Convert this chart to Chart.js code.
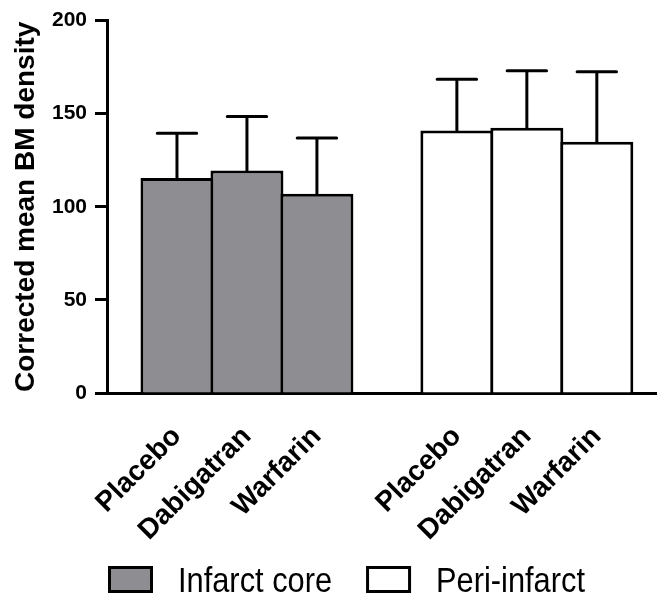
<!DOCTYPE html>
<html>
<head>
<meta charset="utf-8">
<script src="https://cdn.jsdelivr.net/npm/chart.js@4.4.1/dist/chart.umd.min.js"></script>
<style>
  html, body { margin: 0; padding: 0; background: #fff; }
  #wrap { width: 657px; height: 597px; }
</style>
</head>
<body>
<div id="wrap"><canvas id="chart"></canvas></div>
<script>
// values (mean and SD, corrected BM density)
const drugs = ["Placebo", "Dabigatran", "Warfarin"]
const coreX = [1, 2, 3]
const periX = [5, 6, 7]
const coreMean = [115.5, 119.5, 107]
const coreSD = [24, 29, 30]
const periMean = [141, 142.5, 135]
const periSD = [27.5, 30.5, 37.5]
const yTicks = [0, 50, 100, 150, 200]

const xLabels = [...drugs, ...drugs]
const xTicks = [...coreX, ...periX]

Chart.defaults.font.family = "'Liberation Sans', Arial, sans-serif"
Chart.defaults.color = "#000"

// mean + SD whiskers, drawn from the bar elements and the y scale
const errorBars = {
  id: "errorBars",
  afterDatasetsDraw(chart) {
    const ctx = chart.ctx
    const y = chart.scales.y
    ctx.save()
    ctx.strokeStyle = "#000"
    ctx.lineWidth = 3
    ctx.lineCap = "round"
    chart.data.datasets.forEach((ds, di) => {
      chart.getDatasetMeta(di).data.forEach((bar, i) => {
        const top = y.getPixelForValue(ds.data[i].y)
        const end = y.getPixelForValue(ds.data[i].y + ds.sd[i])
        const half = bar.width * 0.27
        ctx.beginPath()
        ctx.moveTo(bar.x, top)
        ctx.lineTo(bar.x, end)
        ctx.moveTo(bar.x - half, end)
        ctx.lineTo(bar.x + half, end)
        ctx.stroke()
      })
    })
    ctx.restore()
  }
}

// legend row under the labels (text a bit condensed, like the figure)
const boxLegend = {
  id: "boxLegend",
  afterDraw(chart) {
    const ctx = chart.ctx
    const squeeze = 0.88
    let x = 108
    const top = 566
    ctx.save()
    ctx.font = "35px 'Liberation Sans', Arial, sans-serif"
    ctx.textBaseline = "alphabetic"
    chart.data.datasets.forEach((ds) => {
      ctx.fillStyle = ds.backgroundColor
      ctx.fillRect(x, top, 45, 27)
      ctx.strokeStyle = "#000"
      ctx.lineWidth = 3
      ctx.strokeRect(x + 1.5, top + 1.5, 42, 24)
      ctx.fillStyle = "#000"
      ctx.save()
      ctx.translate(x + 70, top + 26)
      ctx.scale(squeeze, 1)
      ctx.fillText(ds.label, 0, 0)
      ctx.restore()
      x += 70 + ctx.measureText(ds.label).width * squeeze + 34
    })
    ctx.restore()
  }
}

const toPoints = (xs, ys) => xs.map((x, i) => ({ x, y: ys[i] }))

new Chart(document.getElementById("chart"), {
  type: "bar",
  data: {
    datasets: [
      {
        label: "Infarct core",
        data: toPoints(coreX, coreMean),
        sd: coreSD,
        backgroundColor: "#8e8e92",
        borderColor: "#000",
        borderWidth: 3
      },
      {
        label: "Peri-infarct",
        data: toPoints(periX, periMean),
        sd: periSD,
        backgroundColor: "#ffffff",
        borderColor: "#000",
        borderWidth: 3
      }
    ]
  },
  options: {
    responsive: true,
    maintainAspectRatio: false,
    animation: false,
    grouped: false,
    barPercentage: 1.043,
    categoryPercentage: 1,
    layout: { padding: { top: 20, right: 0, bottom: 54, left: 0 } },
    plugins: {
      legend: { display: false },
      tooltip: { enabled: false }
    },
    scales: {
      x: {
        type: "linear",
        min: 0,
        max: 7.86,
        offset: false,
        grid: { display: false, offset: false },
        border: { color: "#000", width: 3 },
        afterBuildTicks: (scale) => { scale.ticks = xTicks.map((v) => ({ value: v })) },
        ticks: {
          autoSkip: false,
          minRotation: 45,
          maxRotation: 45,
          padding: 19,
          font: { size: 28, weight: "bold" },
          callback: (v, i) => xLabels[i]
        },
        afterFit: (scale) => { scale.height = 150 }
      },
      y: {
        min: 0,
        max: 200,
        afterBuildTicks: (scale) => { scale.ticks = yTicks.map((v) => ({ value: v })) },
        grid: { drawOnChartArea: false, tickLength: 12, tickWidth: 3, tickColor: "#000" },
        border: { color: "#000", width: 3 },
        ticks: { padding: 8, font: { size: 21, weight: "bold" } },
        title: {
          display: true,
          text: "Corrected mean BM density",
          font: { size: 28, weight: "bold" },
          padding: { top: 9, bottom: 0 }
        },
        afterFit: (scale) => { scale.width = 107 }
      }
    }
  },
  plugins: [errorBars, boxLegend]
})
</script>
</body>
</html>
